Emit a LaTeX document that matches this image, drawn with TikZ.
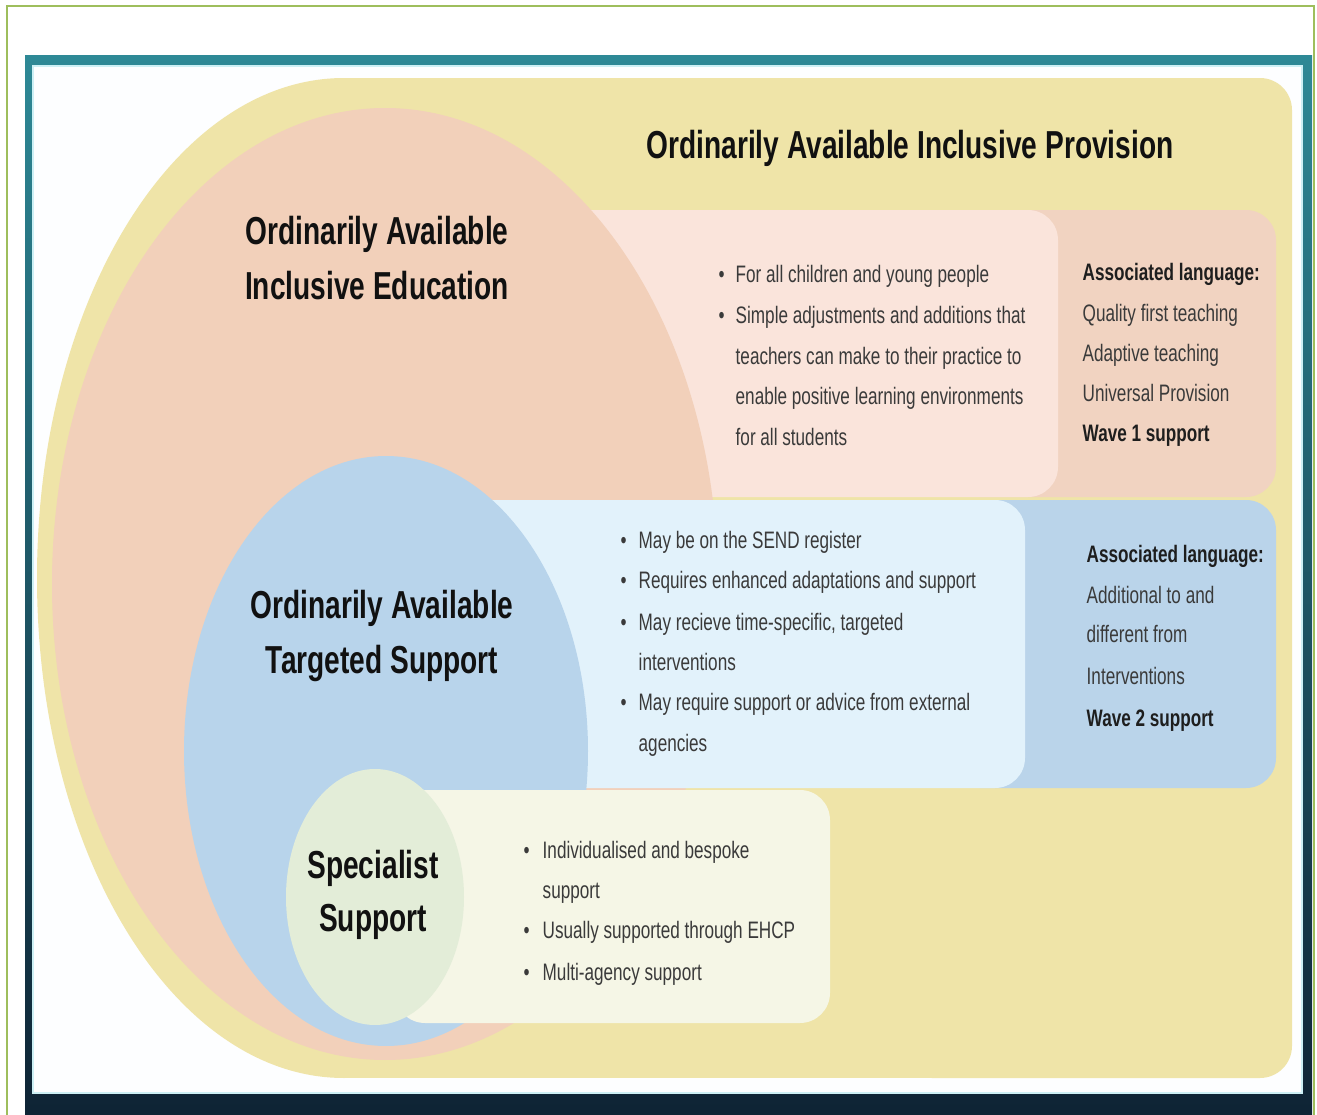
\documentclass[tikz,border=0pt]{standalone}
\usepackage{fontspec}
\setmainfont{Liberation Sans}[FakeStretch=0.72]
\definecolor{greenline}{RGB}{158,190,92}
\definecolor{tealA}{RGB}{46,137,150}
\definecolor{navyA}{RGB}{14,35,52}
\definecolor{innerwhite}{RGB}{253,254,255}
\definecolor{cyanline}{RGB}{205,240,245}
\definecolor{yellowbg}{RGB}{239,228,168}
\definecolor{salmon}{RGB}{242,208,186}
\definecolor{salmonbox}{RGB}{241,211,193}
\definecolor{pinkbox}{RGB}{250,228,219}
\definecolor{bluec}{RGB}{184,212,235}
\definecolor{bluebox}{RGB}{186,212,234}
\definecolor{lightblue}{RGB}{226,242,251}
\definecolor{greenc}{RGB}{227,237,216}
\definecolor{cream}{RGB}{245,246,230}
\definecolor{bodytxt}{RGB}{58,58,58}
\definecolor{boldtxt}{RGB}{30,30,30}
\definecolor{headtxt}{RGB}{17,17,17}
\begin{document}
\begin{tikzpicture}[x=0.01cm,y=-0.01cm,
  body/.style={font=\fontsize{6.77pt}{8pt}\selectfont, text=bodytxt, anchor=west,
    inner sep=0pt, text height=4.9pt, text depth=0pt},
  bodyb/.style={body, font=\fontsize{6.77pt}{8pt}\selectfont\bfseries, text=boldtxt},
  head/.style={font=\fontsize{11.1pt}{15.6pt}\selectfont\bfseries, text=headtxt,
    align=center, inner sep=0pt},
  boxr/.style={rounded corners=0.3cm}]
\useasboundingbox (0,0) rectangle (1317,1115);
\fill[white] (0,0) rectangle (1317,1115);
% frames
\draw[greenline, line width=0.025cm] (7,6) rectangle (1314,1130);
\shade[top color=tealA, bottom color=navyA] (25,55) rectangle (1312,1120);
\fill[innerwhite] (33,66) rectangle (1302,1093);
\draw[cyanline, line width=0.015cm] (33,66) rectangle (1302,1093);
% provision (yellow)
\fill[yellowbg] (344,78) rectangle (1000,1078);
\fill[yellowbg, rounded corners=0.32cm] (900,78) rectangle (1292,1078);
\fill[yellowbg] (344,578) ellipse [x radius=307, y radius=500];
% row 1
\fill[salmonbox, boxr] (950,210) rectangle (1276,497);
\fill[pinkbox, boxr] (450,210) rectangle (1058,497);
\fill[salmon] (385,584) ellipse [x radius=333, y radius=476];
% row 2
\fill[bluebox, boxr] (950,500) rectangle (1276,788);
\fill[lightblue, boxr] (450,500) rectangle (1025,788);
\fill[bluec] (386,751) ellipse [x radius=202, y radius=295];
% row 3
\fill[cream, boxr] (395,790) rectangle (830,1023);
\fill[greenc] (375,897) ellipse [x radius=89, y radius=128];

% headings
\node[head] (title) at (910,148) {Ordinarily Available Inclusive Provision};
\node[head] (hedu) at (377,258) {Ordinarily Available\\Inclusive Education};
\node[head] (htar) at (382,636) {Ordinarily Available\\Targeted Support};
\node[head, font=\fontsize{11.1pt}{15.1pt}\selectfont\bfseries] (hspe) at (373,895) {Specialist\\Support};

% row 1 bullets
\node[body] (b1a) at (718,274) {•};
\node[body] (b1b) at (718,315) {•};
\node[body] (t1a) at (735,274) {For all children and young people};
\node[body] (t1b) at (735,315) {Simple adjustments and additions that};
\node[body] (t1c) at (735,356) {teachers can make to their practice to};
\node[body] (t1d) at (735,396) {enable positive learning environments};
\node[body] (t1e) at (735,437) {for all students};
% row 1 language
\node[bodyb] (l1a) at (1082,272) {Associated language:};
\node[body] (l1b) at (1082,313) {Quality first teaching};
\node[body] (l1c) at (1082,353) {Adaptive teaching};
\node[body] (l1d) at (1082,393) {Universal Provision};
\node[bodyb] (l1e) at (1082,433) {Wave 1 support};

% row 2 bullets
\node[body] (b2a) at (620,540) {•};
\node[body] (b2b) at (620,580) {•};
\node[body] (b2c) at (620,622) {•};
\node[body] (b2d) at (620,702) {•};
\node[body] (t2a) at (638,540) {May be on the SEND register};
\node[body] (t2b) at (638,580) {Requires enhanced adaptations and support};
\node[body] (t2c) at (638,622) {May recieve time-specific, targeted};
\node[body] (t2d) at (638,662) {interventions};
\node[body] (t2e) at (638,702) {May require support or advice from external};
\node[body] (t2f) at (638,743) {agencies};
% row 2 language
\node[bodyb] (l2a) at (1086,554) {Associated language:};
\node[body] (l2b) at (1086,595) {Additional to and};
\node[body] (l2c) at (1086,634) {different from};
\node[body] (l2d) at (1086,676) {Interventions};
\node[bodyb] (l2e) at (1086,718) {Wave 2 support};

% row 3 bullets
\node[body] (b3a) at (523,850) {•};
\node[body] (b3b) at (523,930) {•};
\node[body] (b3c) at (523,972) {•};
\node[body] (t3a) at (542,850) {Individualised and bespoke};
\node[body] (t3b) at (542,890) {support};
\node[body] (t3c) at (542,930) {Usually supported through EHCP};
\node[body] (t3d) at (542,972) {Multi-agency support};
\end{tikzpicture}
\end{document}
